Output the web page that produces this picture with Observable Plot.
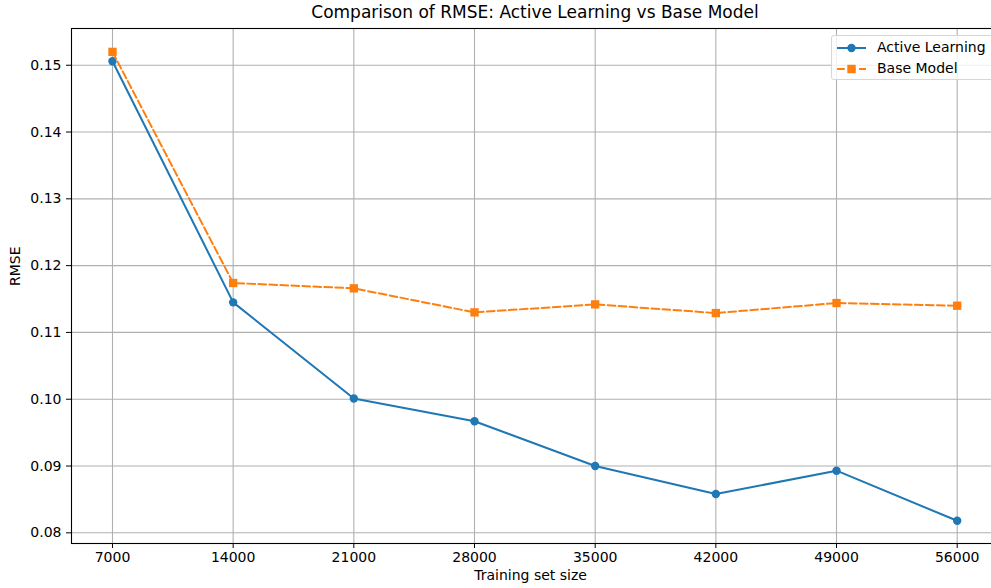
<!DOCTYPE html>
<html>
<head>
<meta charset="utf-8">
<script src="https://cdn.jsdelivr.net/npm/d3@7"></script>
<script src="https://cdn.jsdelivr.net/npm/@observablehq/plot@0.6"></script>
<style>
  html, body { margin: 0; padding: 0; background: #fff; overflow: hidden; width: 991px; height: 588px; }
  body { font-family: "DejaVu Sans", sans-serif; position: relative; }
  #title { height: 27px; font-size: 17px; color: #000; position: relative; }
  #title span { position: absolute; left: 535px; top: 2px; transform: translateX(-50%); white-space: nowrap; }
  #chart { width: 991px; overflow: hidden; }
  #chart svg { max-width: none !important; }
  #legend { position: absolute; left: 831px; top: 35px; width: 175px; height: 45px; box-sizing: border-box;
            border: 1px solid #d6d6d6; border-radius: 3px; background: rgba(255,255,255,0.8); font-size: 14px; }
  .row { position: absolute; left: 0; height: 20px; }
  .row svg { position: absolute; left: 4px; top: 0; }
  .row span { position: absolute; left: 45px; top: 1px; white-space: nowrap; }
</style>
</head>
<body>
<div id="title"><span>Comparison of RMSE: Active Learning vs Base Model</span></div>
<div id="chart"></div>
<div id="legend">
  <div class="row" style="top:2px">
    <svg width="32" height="20"><line x1="1" y1="10" x2="30" y2="10" stroke="#1f77b4" stroke-width="2"/><circle cx="15.5" cy="10" r="4.2" fill="#1f77b4"/></svg>
    <span>Active Learning</span>
  </div>
  <div class="row" style="top:23px">
    <svg width="32" height="20"><line x1="1" y1="10" x2="30" y2="10" stroke="#ff7f0e" stroke-width="2" stroke-dasharray="7.7,3.3"/><rect x="11.3" y="5.8" width="8.4" height="8.4" fill="#ff7f0e"/></svg>
    <span>Base Model</span>
  </div>
</div>
<script>
const sizes = [7000, 14000, 21000, 28000, 35000, 42000, 49000, 56000];
const activeLearning = [0.1506, 0.1145, 0.1001, 0.0967, 0.0900, 0.0858, 0.0893, 0.0818];
const baseModel = [0.1520, 0.1174, 0.1166, 0.1130, 0.1142, 0.1129, 0.1144, 0.1140];
const yTicks = [0.08, 0.09, 0.10, 0.11, 0.12, 0.13, 0.14, 0.15];
const seriesNames = ["Active Learning", "Base Model"];

const al = sizes.map((s, i) => ({size: s, rmse: activeLearning[i], series: seriesNames[0]}));
const bm = sizes.map((s, i) => ({size: s, rmse: baseModel[i], series: seriesNames[1]}));

const chart = Plot.plot({
  width: 995,
  height: 561,
  marginLeft: 71,
  marginRight: 0,
  marginTop: 1,
  marginBottom: 45,
  style: {fontFamily: "DejaVu Sans, sans-serif", fontSize: "14px", color: "#000", background: "#fff", maxWidth: "none"},
  x: {domain: [4622, 58222]},
  y: {domain: [0.0784, 0.1555]},
  marks: [
    Plot.gridX(sizes, {stroke: "#b0b0b0", strokeOpacity: 1, strokeWidth: 1.1}),
    Plot.gridY(yTicks, {stroke: "#b0b0b0", strokeOpacity: 1, strokeWidth: 1.1}),
    Plot.axisX({ticks: sizes, tickSize: 5, tickPadding: 4, tickFormat: d => String(d), label: null, fontSize: "14px"}),
    Plot.axisY({ticks: yTicks, tickSize: 5, tickPadding: 5, tickFormat: d3.format(".2f"), label: null, fontSize: "14px"}),
    Plot.line(al, {x: "size", y: "rmse", stroke: "#1f77b4", strokeWidth: 2}),
    Plot.dot(al, {x: "size", y: "rmse", fill: "#1f77b4", r: 4.2}),
    Plot.line(bm, {x: "size", y: "rmse", stroke: "#ff7f0e", strokeWidth: 2, strokeDasharray: "7.7,3.3"}),
    Plot.dot(bm, {x: "size", y: "rmse", fill: "#ff7f0e", symbol: "square", r: 4.7}),
    Plot.frame({stroke: "#000", strokeWidth: 1.1}),
    Plot.text(["RMSE"], {frameAnchor: "left", dx: -56, rotate: -90, fontSize: 14}),
    Plot.text(["Training set size"], {x: 31250, frameAnchor: "bottom", dy: 36, fontSize: 14})
  ]
});
document.getElementById("chart").appendChild(chart);
</script>
</body>
</html>
